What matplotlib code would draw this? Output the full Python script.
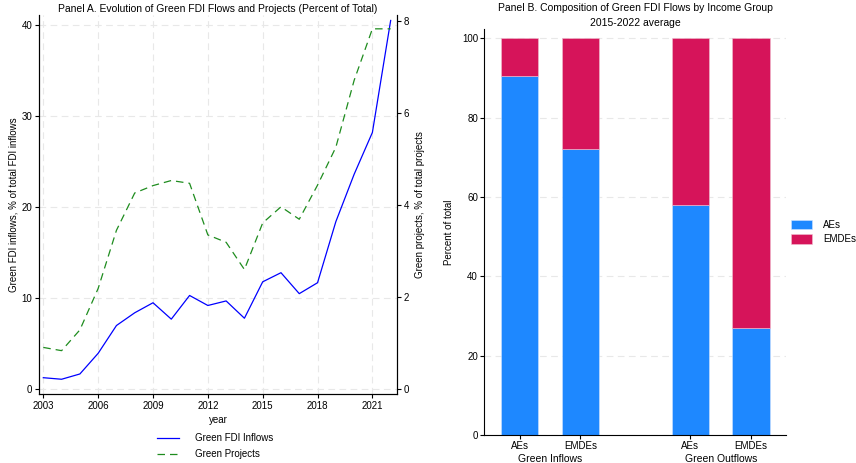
import numpy as np
import matplotlib
matplotlib.use("Agg")
import matplotlib.pyplot as plt

plt.rcParams["font.family"] = ["Liberation Sans", "DejaVu Sans"]
plt.rcParams["font.size"] = 7

# ---------- Panel A data ----------
years = [2003, 2004, 2005, 2006, 2007, 2008, 2009, 2010, 2011, 2012,
         2013, 2014, 2015, 2016, 2017, 2018, 2019, 2020, 2021, 2022]
green_fdi_inflows = [1.27, 1.1, 1.68, 3.95, 7.0, 8.4, 9.5, 7.7, 10.3, 9.2,
                     9.7, 7.8, 11.8, 12.8, 10.5, 11.7, 18.4, 23.6, 28.2, 40.5]
green_projects = [0.91, 0.84, 1.29, 2.19, 3.45, 4.26, 4.42, 4.53, 4.47, 3.35,
                  3.19, 2.6, 3.61, 3.96, 3.69, 4.43, 5.25, 6.7, 7.82, 7.82]
year_ticks = [2003, 2006, 2009, 2012, 2015, 2018, 2021]

# ---------- Panel B data ----------
bar_labels = ["AEs", "EMDEs", "AEs", "EMDEs"]
group_labels = ["Green Inflows", "Green Outflows"]
aes_share = [90.5, 72.1, 58.0, 27.0]
emdes_share = [100 - v for v in aes_share]

BLUE = "#1E88FF"
RED = "#D6145A"
GRID = "#E8E8E8"

fig = plt.figure(figsize=(8.56, 4.63), dpi=100)

# ---------- Panel A ----------
ax = fig.add_axes([39.3 / 856, 1 - 394 / 463, (396.7 - 39.3) / 856, (394 - 15) / 463])
ax2 = ax.twinx()
l1, = ax.plot(years, green_fdi_inflows, color="blue", lw=0.9, label="Green FDI Inflows")
l2, = ax2.plot(years, green_projects, color="#1E8C1E", lw=0.9, ls=(0, (6, 4)),
               label="Green Projects")
ax.set_xlim(2002.78, 2022.33)
ax.set_ylim(-0.52, 41.1)
ax2.set_ylim(-0.1, 8.12)
ax.set_xticks(year_ticks)
ax.set_yticks([0, 10, 20, 30, 40])
ax2.set_yticks([0, 2, 4, 6, 8])
ax.grid(True, color=GRID, ls=(0, (6, 4)), lw=0.8)
ax.set_axisbelow(True)
for a in (ax, ax2):
    a.spines["top"].set_visible(False)
    a.tick_params(length=3, width=0.8, pad=2, labelsize=7)
    for s in a.spines.values():
        s.set_linewidth(0.8)
ax.set_xlabel("year", labelpad=3)
ax.set_ylabel("Green FDI inflows, % of total FDI inflows", labelpad=2)
ax2.set_ylabel("Green projects, % of total projects", labelpad=4)
ax.set_title("Panel A. Evolution of Green FDI Flows and Projects (Percent of Total)",
             fontsize=7.5, pad=2)
fig.legend([l1, l2], ["Green FDI Inflows", "Green Projects"], loc="center",
           bbox_to_anchor=(215 / 856, 1 - 446 / 463), frameon=False, ncol=1,
           handlelength=2.3, handletextpad=1.6, labelspacing=0.6, fontsize=7)

# ---------- Panel B ----------
bx = fig.add_axes([484.3 / 856, 1 - 435 / 463, (786 - 484.3) / 856, (435 - 29.3) / 463])
pos = np.array([0, 1, 2.806, 3.806])
w = 0.614
bx.bar(pos, aes_share, width=w, color=BLUE, edgecolor="#CFE3FF", lw=0.4, label="AEs", zorder=2)
bx.bar(pos, emdes_share, bottom=aes_share, width=w, color=RED, edgecolor="#F0C0D0",
       lw=0.4, label="EMDEs", zorder=2)
bx.set_xlim(-0.582, 4.38)
bx.set_ylim(0, 102.3)
bx.set_yticks([0, 20, 40, 60, 80, 100])
bx.set_xticks(pos)
bx.set_xticklabels(bar_labels)
bx.grid(True, axis="y", color=GRID, ls=(0, (6, 4)), lw=0.8)
bx.set_axisbelow(True)
for s in ("top", "right"):
    bx.spines[s].set_visible(False)
for s in bx.spines.values():
    s.set_linewidth(0.8)
bx.tick_params(length=3, width=0.8, pad=1.5, labelsize=7)
bx.set_ylabel("Percent of total", labelpad=6)
for i, g in enumerate(group_labels):
    xc = (pos[2 * i] + pos[2 * i + 1]) / 2
    bx.text(xc, -0.046, g, transform=bx.get_xaxis_transform(), ha="center", va="top",
            fontsize=7.5)
bx.set_title("Panel B. Composition of Green FDI Flows by Income Group\n2015-2022 average",
             fontsize=7.5, pad=2.5, linespacing=1.55)
bx.legend(loc="center left", bbox_to_anchor=(791 / 856, 1 - 232 / 463),
          bbox_transform=fig.transFigure, frameon=False, handlelength=2.2,
          handleheight=1.1, handletextpad=1.1, labelspacing=0.5, fontsize=7,
          borderaxespad=0, borderpad=0)

fig.savefig("out.png", dpi=100)
